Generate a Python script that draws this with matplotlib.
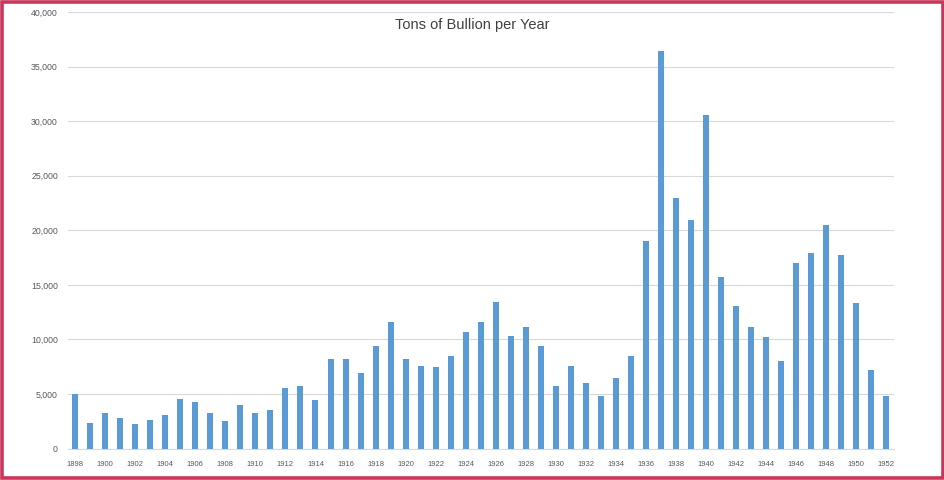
import matplotlib
matplotlib.use("Agg")
import matplotlib.pyplot as plt
from matplotlib.patches import Rectangle

# Annual tonnage, one value per year
years = list(range(1898, 1953))
tons = [5000, 2350, 3270, 2810, 2290, 2590, 3050, 4550, 4300, 3270,
        2560, 4000, 3270, 3540, 5520, 5740, 4490, 8210, 8210, 6960,
        9400, 11600, 8210, 7600, 7480, 8450, 10650, 11550, 13400,
        10280, 11100, 9430, 5770, 7600, 6010, 4790, 6470, 8450, 18980,
        36400, 22960, 20970, 30600, 15720, 13100, 11100, 10230, 7990, 17000,
        17920, 20500, 17770, 13340, 7230, 4790]
y_ticks = [0, 5000, 10000, 15000, 20000, 25000, 30000, 35000, 40000]
title = "Tons of Bullion per Year"

plt.rcParams["font.family"] = ["Liberation Sans", "DejaVu Sans"]
text_color = "#595959"

fig = plt.figure(figsize=(9.45, 4.8), dpi=100)
ax = fig.add_axes([0.0715, 0.0656, 0.8745, 0.9094])

x = list(range(len(years)))
ax.bar(x, tons, width=0.4, color="#5B9BD5", zorder=3)

ax.set_xlim(-0.5, len(years) - 0.5)
ax.set_ylim(0, 40000)
ax.set_yticks(y_ticks)
ax.set_yticklabels([f"{v:,}" for v in y_ticks], fontsize=6.3, color=text_color)
ax.set_xticks(x[::2])
ax.set_xticklabels([str(y) for y in years[::2]], fontsize=5.5, color=text_color)
ax.tick_params(axis="x", length=0, pad=9)
ax.tick_params(axis="y", length=0, pad=7)

ax.grid(axis="y", color="#D9D9D9", linewidth=0.8, zorder=0)
for side in ("left", "right", "top"):
    ax.spines[side].set_visible(False)
ax.spines["bottom"].set_color("#D9D9D9")
ax.spines["bottom"].set_linewidth(0.8)

fig.text(0.5, 0.948, title, ha="center", va="center", fontsize=10.5, color="#404040")

# Frame around the whole chart
fig.patches.append(Rectangle((0.0025, 0.004), 0.995, 0.992, transform=fig.transFigure,
                             fill=False, edgecolor="#C8375A", linewidth=2.6))

fig.savefig("out.png", dpi=100)
